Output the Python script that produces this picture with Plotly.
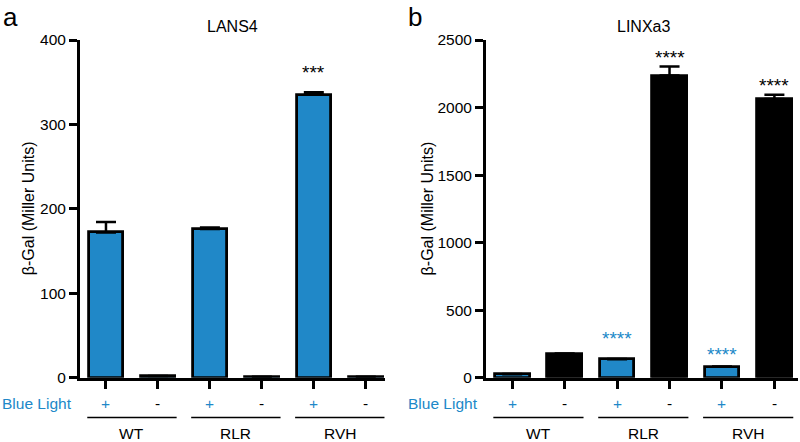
import plotly.graph_objects as go

# data
conds = ["WT+", "WT-", "RLR+", "RLR-", "RVH+", "RVH-"]
light = ["+", "-", "+", "-", "+", "-"]
groups = ["WT", "RLR", "RVH"]

lans4 = [172, 2, 176, 1, 335, 1]
lans4_err = [12.5, 0, 2, 0, 3, 0]
lans4_stars = ["", "", "", "", "***", ""]
lans4_star_y = [0, 0, 0, 0, 366, 0]

linx = [25, 175, 136, 2237, 81, 2064]
linx_err = [2, 4, 3, 67, 2, 30]
linx_stars = ["", "", "****", "****", "****", "****"]
linx_star_y = [0, 0, 321, 2400, 205, 2195]

BLUE = "#2088C8"
FONT = "Liberation Sans, Arial, sans-serif"
xs = list(range(len(conds)))
cols_a = [BLUE] * 6
cols_b = [BLUE if l == "+" else "black" for l in light]

fig = go.Figure()
for vals, errs, cols, xa, ya in [(lans4, lans4_err, cols_a, "x", "y"),
                                 (linx, linx_err, cols_b, "x2", "y2")]:
    fig.add_trace(go.Bar(
        x=xs, y=vals, width=0.66, xaxis=xa, yaxis=ya,
        marker=dict(color=cols, line=dict(color="black", width=2.8)),
        error_y=dict(type="data", array=errs, arrayminus=[0] * 6, symmetric=False,
                     color="black", thickness=2.5, width=10),
        showlegend=False, hoverinfo="skip"))

axis_common = dict(showgrid=False, zeroline=False, showline=True, linecolor="black",
                   linewidth=3, ticks="outside", ticklen=8, tickwidth=3, tickcolor="black",
                   automargin=False,
                   tickfont=dict(family=FONT, size=15.5, color="black"))
fig.update_layout(
    width=800, height=442, margin=dict(l=0, r=0, t=0, b=0, autoexpand=False),
    autosize=False,
    plot_bgcolor="white", paper_bgcolor="white", bargap=0,
    xaxis=dict(domain=[0.1, 0.48125], range=[-0.5, 5.37], tickvals=xs,
               showticklabels=False, anchor="y", **axis_common),
    yaxis=dict(domain=[0.1455, 0.9095], range=[0, 400], tickvals=[0, 100, 200, 300, 400],
               anchor="x", **axis_common),
    xaxis2=dict(domain=[0.6075, 0.9975], range=[-0.5, 5.45], tickvals=xs,
                showticklabels=False, anchor="y2", **axis_common),
    yaxis2=dict(domain=[0.1455, 0.9095], range=[0, 2500],
                tickvals=[0, 500, 1000, 1500, 2000, 2500], anchor="x2", **axis_common),
)


def txt(text, x, y, xref="paper", yref="paper", size=15, color="black", **kw):
    d = dict(text=text, x=x, y=y, xref=xref, yref=yref, showarrow=False,
             xanchor="center", yanchor="middle",
             font=dict(family=FONT, size=size, color=color))
    d.update(kw)
    return d


ann = []
shapes = []
panels = [("x", "y", "a", "LANS4", 0.0125, 0.092, 0.291, 0.035,
           lans4_stars, lans4_star_y, cols_a),
          ("x2", "y2", "b", "LINXa3", 0.519, 0.6, 0.804, 0.534,
           linx_stars, linx_star_y, cols_b)]
for xa, ya, letter, title, lx, blx, tx, ytx, stars, star_y, cols in panels:
    ann.append(txt(letter, lx, 0.962, size=26))
    ann.append(txt(title, tx, 0.939, size=16))
    ann.append(txt("β-Gal (Miller Units)", ytx, 0.529, size=16, textangle=-90))
    ann.append(txt("Blue Light", blx, 0.088, size=15.5, color=BLUE, xanchor="right"))
    for i, l in enumerate(light):
        ann.append(txt(l, i, 0.088, xref=xa, size=15.5,
                       color=BLUE if l == "+" else "black"))
    for i, s in enumerate(stars):
        if s:
            c = "black" if (cols[i] == "black" or xa == "x") else BLUE
            ann.append(txt(s, i, star_y[i], xref=xa, yref=ya, size=19, color=c, yshift=-4))
    for g, name in enumerate(groups):
        shapes.append(dict(type="line", xref=xa, yref="paper", x0=2 * g - 0.36,
                           x1=2 * g + 1.36, y0=0.0554, y1=0.0554,
                           line=dict(color="black", width=1.5)))
        ann.append(txt(name, 2 * g + 0.5, 0.02, xref=xa, size=15.5))

fig.update_layout(annotations=ann, shapes=shapes)
fig.write_html("out.html", config={"displayModeBar": False},
               post_script="document.body.style.margin='0';document.body.style.overflow='hidden';")
